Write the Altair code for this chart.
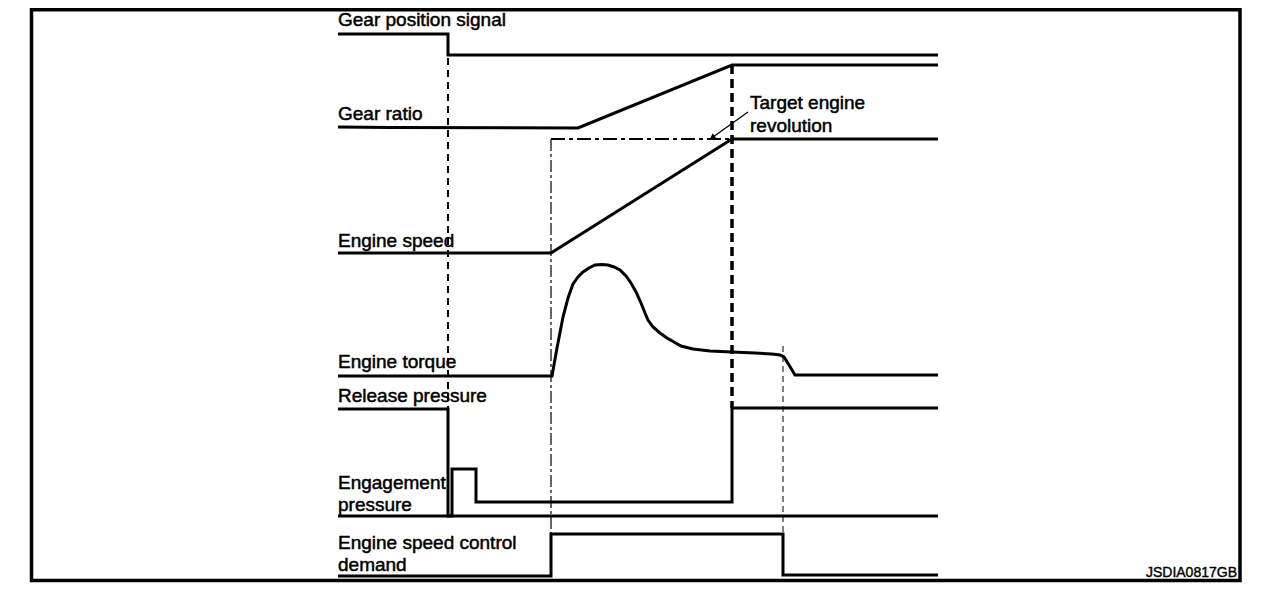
import altair as alt
import pandas as pd

# ---- signal traces (time position, vertical level) ----
GEAR_POS_T = [338, 448, 448, 938]
GEAR_POS_Y = [34, 34, 55, 55]

GEAR_RATIO_T = [338, 390, 578, 732, 938]
GEAR_RATIO_Y = [127, 127.5, 128, 65, 65]

ENGINE_SPEED_T = [338, 551, 732, 938]
ENGINE_SPEED_Y = [253, 253, 139, 139]

TORQUE_T = [338, 552, 557, 563, 568, 573, 578, 583, 589, 595, 602, 608, 614, 620,
            626, 631, 636, 641, 645, 648, 653, 660, 667, 674, 681, 693, 710, 732,
            755, 772, 780, 784, 789, 795, 938]
TORQUE_Y = [376, 376, 348, 317, 298, 284, 277, 272, 268, 265, 264.5, 265, 267, 270,
            276, 283, 292, 303, 313, 320, 327, 333, 338, 342, 346, 349, 351, 352,
            353, 354, 355, 357, 365, 375, 375]

RELEASE_T = [338, 448, 448, 938]
RELEASE_Y = [409, 409, 516, 516]

ENGAGE_T = [338, 452, 452, 476, 476, 732, 732, 938]
ENGAGE_Y = [516, 516, 469, 469, 502, 502, 408, 408]

CONTROL_T = [338, 551, 551, 783, 783, 938]
CONTROL_Y = [576, 576, 534, 534, 575, 575]

TARGET_T = [551, 732]
TARGET_Y = [139, 139]

ARROW_T = [748, 713]
ARROW_Y = [112, 137]

# vertical timing guides: time, top, bottom
GUIDE_T = [448, 551, 732, 783]
GUIDE_TOP = [58, 139, 65, 346]
GUIDE_BOT = [409, 534, 408, 534]

LABELS = ["Gear position signal", "Gear ratio", "Engine speed", "Engine torque",
          "Release pressure", "Engagement", "pressure", "Engine speed control",
          "demand", "Target engine", "revolution"]
LABEL_T = [338, 338, 338, 338, 338, 338, 338, 338, 338, 750, 750]
LABEL_Y = [26, 120, 247, 368, 402, 489, 511, 549, 571, 109, 132]

CODE = "JSDIA0817GB"

# ---- scales (diagram units = page pixels) ----
W, H = 1264, 578
xs = alt.Scale(domain=[8, 8 + W], nice=False, zero=False)
ys = alt.Scale(domain=[8, 8 + H], nice=False, zero=False, reverse=True)
X = lambda f: alt.X(f, type="quantitative", scale=xs, axis=None)
Y = lambda f: alt.Y(f, type="quantitative", scale=ys, axis=None)


def trace(name, t, y):
    return pd.DataFrame({"series": name, "t": t, "y": y, "i": range(len(t))})


solid = pd.concat([
    trace("gear_pos", GEAR_POS_T, GEAR_POS_Y),
    trace("gear_ratio", GEAR_RATIO_T, GEAR_RATIO_Y),
    trace("engine_speed", ENGINE_SPEED_T, ENGINE_SPEED_Y),
    trace("torque", TORQUE_T, TORQUE_Y),
    trace("release", RELEASE_T, RELEASE_Y),
    trace("engage", ENGAGE_T, ENGAGE_Y),
    trace("control", CONTROL_T, CONTROL_Y),
])

lines = alt.Chart(solid).mark_line(color="black", strokeWidth=3, strokeJoin="miter",
                                   strokeCap="butt").encode(
    x=X("t"), y=Y("y"), detail="series:N", order="i:Q")

target = alt.Chart(trace("target", TARGET_T, TARGET_Y)).mark_line(
    color="black", strokeWidth=2, strokeDash=[14, 4, 4, 4]).encode(
    x=X("t"), y=Y("y"), order="i:Q")

arrow = alt.Chart(trace("arrow", ARROW_T, ARROW_Y)).mark_line(
    color="black", strokeWidth=1.3).encode(x=X("t"), y=Y("y"), order="i:Q")

arrow_head = alt.Chart(pd.DataFrame({"t": [ARROW_T[1]], "y": [ARROW_Y[1]]})).mark_point(
    shape="triangle", filled=True, color="black", size=45, angle=234, opacity=1).encode(
    x=X("t"), y=Y("y"))

guides = pd.DataFrame({"t": GUIDE_T, "top": GUIDE_TOP, "bot": GUIDE_BOT})
styles = [([7, 5], 2), ([12, 3, 3, 3], 1.2), ([9, 5], 3.5), ([6, 4], 1)]
guide_layers = []
for k, (dash, w) in enumerate(styles):
    guide_layers.append(
        alt.Chart(guides.iloc[[k]]).mark_rule(color="black", strokeWidth=w,
                                              strokeDash=dash).encode(
            x=X("t"), y=Y("top"), y2="bot"))

texts = alt.Chart(pd.DataFrame({"label": LABELS, "t": LABEL_T, "y": LABEL_Y})).mark_text(
    align="left", baseline="alphabetic", font="Liberation Sans", fontSize=19,
    color="black", stroke="black", strokeWidth=0.5).encode(
    x=X("t"), y=Y("y"), text="label:N")

code = alt.Chart(pd.DataFrame({"label": [CODE], "t": [1237], "y": [577]})).mark_text(
    align="right", baseline="alphabetic", font="Liberation Sans", fontSize=14,
    color="black", stroke="black", strokeWidth=0.4).encode(
    x=X("t"), y=Y("y"), text="label:N")

frame = alt.Chart(pd.DataFrame({"x1": [31.5], "x2": [1240], "y1": [9.8], "y2": [580.5]})).mark_rect(
    fill=None, stroke="black", strokeWidth=3.5).encode(
    x=X("x1"), x2="x2", y=Y("y1"), y2="y2")

chart = alt.layer(frame, *guide_layers, target, lines, arrow, arrow_head, texts, code).properties(
    width=W, height=H, autosize=alt.AutoSizeParams(type="none"), padding=0,
    background="white"
).configure_view(stroke=None)

chart.save("out.html", embed_options={"renderer": "svg", "actions": False})
